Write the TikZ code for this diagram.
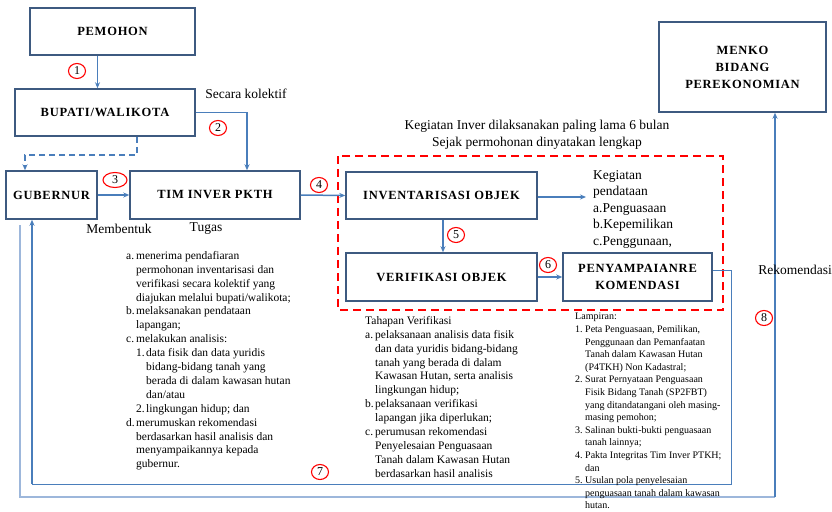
\documentclass[tikz,border=0pt]{standalone}
\usepackage{fontspec}
\setmainfont{Liberation Serif}
\usetikzlibrary{arrows.meta,shapes.geometric}
\definecolor{boxc}{HTML}{3E5A80}
\definecolor{arrc}{HTML}{4A7EBB}
\definecolor{lightc}{HTML}{9DB7DB}
\definecolor{redc}{HTML}{FF0000}
\newcommand{\itm}[1]{\makebox[10pt][l]{#1}}
\newcommand{\cnt}{\hspace*{10pt}}
\begin{document}
\begin{tikzpicture}[x=1pt,y=-1pt,
  mainbox/.style={draw=boxc,line width=1.5pt,inner sep=0pt,align=center,
    font=\fontsize{12.5}{17}\selectfont\bfseries\addfontfeatures{LetterSpace=6}},
  arr/.style={draw=arrc,line width=1.5pt,-{Stealth[length=6pt,width=5pt]}},
  num/.style={draw=redc,ellipse,line width=1.1pt,inner sep=0.5pt,minimum width=17pt,minimum height=15pt,font=\fontsize{12}{12}\selectfont},
  lbl/.style={inner sep=0pt,font=\fontsize{13.5}{16.5}\selectfont},
  listtxt/.style={inner sep=0pt,align=left,font=\fontsize{11.5}{13.9}\selectfont},
  smalltxt/.style={inner sep=0pt,align=left,font=\fontsize{10}{12.6}\selectfont}]
\useasboundingbox (0,0) rectangle (832,511);
% boxes
\node[mainbox,minimum width=165pt,minimum height=47pt] (pem) at (112.5,31.5) {PEMOHON};
\node[mainbox,minimum width=180pt,minimum height=47pt] (bup) at (105,112.5) {BUPATI/WALIKOTA};
\node[mainbox,minimum width=91pt,minimum height=48pt] (gub) at (51.5,195) {GUBERNUR};
\node[mainbox,minimum width=170pt,minimum height=48pt] (tim) at (215,195) {TIM INVER PKTH};
\node[mainbox,minimum width=191pt,minimum height=47pt] (inv) at (441.5,195.5) {INVENTARISASI OBJEK};
\node[mainbox,minimum width=191pt,minimum height=48pt] (ver) at (441.5,277) {VERIFIKASI OBJEK};
\node[mainbox,minimum width=149pt,minimum height=48pt] (peny) at (637.5,277) {PENYAMPAIANRE\\KOMENDASI};
\node[mainbox,minimum width=167pt,minimum height=90pt] (menko) at (742.5,67) {MENKO\\BIDANG\\PEREKONOMIAN};
% red dashed frame
\draw[redc,line width=2pt,dash pattern=on 8pt off 5pt] (338,156) rectangle (723,310);
% coordinates
\coordinate (c2) at (247,0);
\coordinate (c7a) at (731,270);
\coordinate (c7b) at (731,484);
\coordinate (c7c) at (32,484);
\coordinate (c8a) at (20,225);
\coordinate (c8b) at (20,497);
\coordinate (c8c) at (775,497);
\coordinate (ct) at (586,197);
% connectors
\draw[arr] ([xshift=-15pt]pem.south) -- ([xshift=-15pt]pem.south |- bup.north);
\draw[arr] (bup.east) -| (c2 |- tim.north);
\draw[arrc,line width=1.5pt,dash pattern=on 6pt off 4pt,-{Stealth[length=6pt,width=5pt]}]
  ([xshift=32pt]bup.south) -- ++(0,18) -| ([xshift=-26.5pt]gub.north);
\draw[arr] (gub.east) -- (tim.west);
\draw[arr] (tim.east) -- (inv.west);
\draw[arr] (inv.east |- ct) -- (ct);
\draw[arr] ([xshift=1.5pt]inv.south) -- ([xshift=1.5pt]ver.north);
\draw[arr] (ver.east) -- (peny.west);
\draw[arrc,line width=1pt] ([yshift=7pt]peny.east) -- (c7a) -- (c7b) -- (c7c);
\draw[arr] (c7c) -- (gub.south -| c7c);
\draw[lightc,line width=1.3pt] (c8a) -- (c8b) -- (c8c);
\draw[arr,line width=1.8pt] (c8c) -- (menko.south -| c8c);
% numbers
\node[num] (n1) at (77,71) {1};
\node[num] (n2) at (218,128) {2};
\node[num,minimum width=24pt] (n3) at (115,180) {3};
\node[num] (n4) at (319,185) {4};
\node[num] (n5) at (456,235) {5};
\node[num] (n6) at (548,265) {6};
\node[num] (n7) at (320,472) {7};
\node[num] (n8) at (764,318) {8};
% labels
\node[lbl] (sk) at (246,94) {Secara kolektif};
\node[lbl] (mb) at (119,229) {Membentuk};
\node[lbl] (tg) at (206,229) {Tugas};
\node[lbl,align=center] (kg) at (537,135) {Kegiatan Inver dilaksanakan paling lama 6 bulan\\Sejak permohonan dinyatakan lengkap};
\node[lbl,align=left,anchor=north west] (kp) at (593,170) {Kegiatan\\pendataan\\a.Penguasaan\\b.Kepemilikan\\c.Penggunaan,};
\node[lbl] (rk) at (795,270) {Rekomendasi};
% lists
\node[listtxt,anchor=north west] (tugas) at (126,251) {%
\itm{a.}menerima pendafiaran\\
\cnt permohonan inventarisasi dan\\
\cnt verifikasi secara kolektif yang\\
\cnt diajukan melalui bupati/walikota;\\
\itm{b.}melaksanakan pendataan\\
\cnt lapangan;\\
\itm{c.}melakukan analisis:\\
\cnt\itm{1.}data fisik dan data yuridis\\
\hspace*{20pt}bidang-bidang tanah yang\\
\hspace*{20pt}berada di dalam kawasan hutan\\
\hspace*{20pt}dan/atau\\
\cnt\itm{2.}lingkungan hidup; dan\\
\itm{d.}merumuskan rekomendasi\\
\cnt berdasarkan hasil analisis dan\\
\cnt menyampaikannya kepada\\
\cnt gubernur.};
\node[listtxt,anchor=north west] (verif) at (365,316) {%
Tahapan Verifikasi\\
\itm{a.}pelaksanaan analisis data fisik\\
\cnt dan data yuridis bidang-bidang\\
\cnt tanah yang berada di dalam\\
\cnt Kawasan Hutan, serta analisis\\
\cnt lingkungan hidup;\\
\itm{b.}pelaksanaan verifikasi\\
\cnt lapangan jika diperlukan;\\
\itm{c.}perumusan rekomendasi\\
\cnt Penyelesaian Penguasaan\\
\cnt Tanah dalam Kawasan Hutan\\
\cnt berdasarkan hasil analisis};
\node[smalltxt,anchor=north west] (lamp) at (575,313) {%
Lampiran:\\
\itm{1.}Peta Penguasaan, Pemilikan,\\
\cnt Penggunaan dan Pemanfaatan\\
\cnt Tanah dalam Kawasan Hutan\\
\cnt (P4TKH) Non Kadastral;\\
\itm{2.}Surat Pernyataan Penguasaan\\
\cnt Fisik Bidang Tanah (SP2FBT)\\
\cnt yang ditandatangani oleh masing-\\
\cnt masing pemohon;\\
\itm{3.}Salinan bukti-bukti penguasaan\\
\cnt tanah lainnya;\\
\itm{4.}Pakta Integritas Tim Inver PTKH;\\
\cnt dan\\
\itm{5.}Usulan pola penyelesaian\\
\cnt penguasaan tanah dalam kawasan\\
\cnt hutan.};
\end{tikzpicture}
\end{document}
